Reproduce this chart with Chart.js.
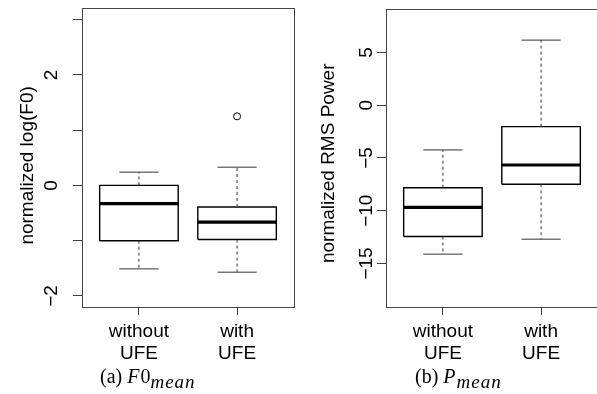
<!DOCTYPE html>
<html lang="en">
<head>
<meta charset="UTF-8">
<title>F0 and power boxplots</title>
<script src="https://cdn.jsdelivr.net/npm/chart.js"></script>
<style>
  html, body { margin: 0; padding: 0; background: #fff; overflow: hidden; }
  body { width: 597px; height: 394px; position: relative; }
  canvas { position: absolute; top: 0; }
  #f0 { left: 0; }
  #power { left: 300px; }
  .cap { position: absolute; top: 364px; font-family: "Liberation Serif", serif; font-size: 20px; color: #000; white-space: nowrap; line-height: 24px; }
  .cap i { margin-right: 1px; }
  .cap sub { font-size: 19px; font-style: italic; letter-spacing: 1px; vertical-align: -5px; line-height: 0; }
</style>
<script>
  const groups = [['without', 'UFE'], ['with', 'UFE']]

  // (a) normalized log(F0): whisker low, q1, median, q3, whisker high
  const f0Low = [-1.51, -1.57]
  const f0Q1 = [-1.0, -0.98]
  const f0Median = [-0.33, -0.665]
  const f0Q3 = [0.0, -0.39]
  const f0High = [0.24, 0.33]
  const f0Outliers = [[], [1.25]]
  const f0Ticks = [-2, -1, 0, 1, 2, 3]
  const f0TickLabels = ['\u22122', '', '0', '', '2', '']

  // (b) normalized RMS power
  const powerLow = [-14.12, -12.7]
  const powerQ1 = [-12.44, -7.5]
  const powerMedian = [-9.69, -5.67]
  const powerQ3 = [-7.82, -2.03]
  const powerHigh = [-4.24, 6.17]
  const powerOutliers = [[], []]
  const powerTicks = [-15, -10, -5, 0, 5]
  const powerTickLabels = ['\u221215', '\u221210', '\u22125', '0', '5']

  const sans = 'Liberation Sans, Arial, sans-serif'

  const frame = {
    id: 'frame',
    beforeDatasetsDraw(chart) {
      const { ctx, chartArea: a } = chart
      ctx.save()
      ctx.strokeStyle = '#444'
      ctx.lineWidth = 1
      ctx.strokeRect(Math.round(a.left) + 0.5, Math.round(a.top) + 0.5, Math.round(a.right - a.left), Math.round(a.bottom - a.top))
      ctx.restore()
    }
  }

  function noPad(s) {
    s.paddingTop = 0
    s.paddingBottom = 0
    s.paddingLeft = 0
    s.paddingRight = 0
  }

  function seg(points, color, width, dash) {
    return {
      data: points.map(p => ({ x: p[0], y: p[1] })),
      showLine: true,
      borderColor: color,
      borderWidth: width,
      borderDash: dash || [],
      borderJoinStyle: 'miter',
      borderCapStyle: 'butt',
      pointRadius: 0,
      fill: false,
      tension: 0
    }
  }

  function boxDatasets(low, q1, med, q3, high, outliers) {
    const sets = []
    const half = 0.4
    const cap = 0.2
    groups.forEach((g, i) => {
      const x = i + 1
      sets.push(seg([[x, q3[i]], [x, high[i]]], '#333', 1, [3, 3]))
      sets.push(seg([[x, q1[i]], [x, low[i]]], '#333', 1, [3, 3]))
      sets.push(seg([[x - cap, high[i]], [x + cap, high[i]]], '#333', 1))
      sets.push(seg([[x - cap, low[i]], [x + cap, low[i]]], '#333', 1))
      sets.push(seg([[x - half, q1[i]], [x + half, q1[i]], [x + half, q3[i]], [x - half, q3[i]], [x - half, q1[i]]], '#000', 1.4))
      sets.push(seg([[x - half, med[i]], [x + half, med[i]]], '#000', 3.2))
    })
    const pts = []
    outliers.forEach((list, i) => list.forEach(v => pts.push({ x: i + 1, y: v })))
    sets.push({
      data: pts,
      showLine: false,
      pointRadius: 3.5,
      pointBorderWidth: 1,
      pointBorderColor: '#000',
      pointBackgroundColor: '#fff'
    })
    return sets
  }

  function makeChart(id, sets, yMin, yMax, yTicks, yLabels, title, opts) {
    return new Chart(document.getElementById(id), {
      type: 'scatter',
      data: { datasets: sets },
      plugins: [frame],
      options: {
        responsive: false,
        animation: false,
        layout: { padding: { top: opts.top, right: opts.right, bottom: 0, left: 0 } },
        plugins: { legend: { display: false }, tooltip: { enabled: false } },
        scales: {
          x: {
            type: 'linear',
            min: 0.42,
            max: 2.58,
            afterBuildTicks: s => { s.ticks = groups.map((g, i) => ({ value: i + 1 })) },
            afterFit: s => { s.height = 58; noPad(s) },
            border: { display: false },
            grid: { drawOnChartArea: false, tickLength: 8, color: '#444' },
            ticks: {
              autoSkip: false,
              maxRotation: 0,
              padding: 5,
              color: '#000',
              font: { family: sans, size: 19, lineHeight: 1.2 },
              callback: (v, i) => groups[i]
            }
          },
          y: {
            min: yMin,
            max: yMax,
            afterBuildTicks: s => { s.ticks = yTicks.map(v => ({ value: v })) },
            afterFit: s => { s.width = opts.yWidth; noPad(s) },
            border: { display: false },
            grid: { drawOnChartArea: false, tickLength: 9, color: '#444' },
            ticks: {
              autoSkip: false,
              minRotation: 90,
              maxRotation: 90,
              crossAlign: 'center',
              padding: opts.tickPad,
              color: '#000',
              font: { family: sans, size: 19 },
              callback: (v, i) => yLabels[i]
            },
            title: {
              display: true,
              // trailing spaces nudge the rotated title down to where R put it
              text: title + opts.titleNudge,
              color: '#000',
              font: { family: sans, size: 19 },
              padding: { top: opts.titlePad, bottom: 0 }
            }
          }
        }
      }
    })
  }

  window.onload = () => {
    makeChart('f0', boxDatasets(f0Low, f0Q1, f0Median, f0Q3, f0High, f0Outliers),
      -2.2, 3.21, f0Ticks, f0TickLabels, 'normalized log(F0)',
      { top: 8, right: 6, yWidth: 82, tickPad: 10, titlePad: 16, titleNudge: '   ' })
    makeChart('power', boxDatasets(powerLow, powerQ1, powerMedian, powerQ3, powerHigh, powerOutliers),
      -19.13, 9.12, powerTicks, powerTickLabels, 'normalized RMS Power',
      { top: 9, right: 2, yWidth: 86, tickPad: -6, titlePad: 17, titleNudge: '  ' })
  }
</script>
</head>
<body>
  <canvas id="f0" width="300" height="365"></canvas>
  <canvas id="power" width="300" height="365"></canvas>
  <div class="cap" style="left:100px">(a) <i>F</i>0<sub>mean</sub></div>
  <div class="cap" style="left:415px">(b) <i>P</i><sub>mean</sub></div>
</body>
</html>
